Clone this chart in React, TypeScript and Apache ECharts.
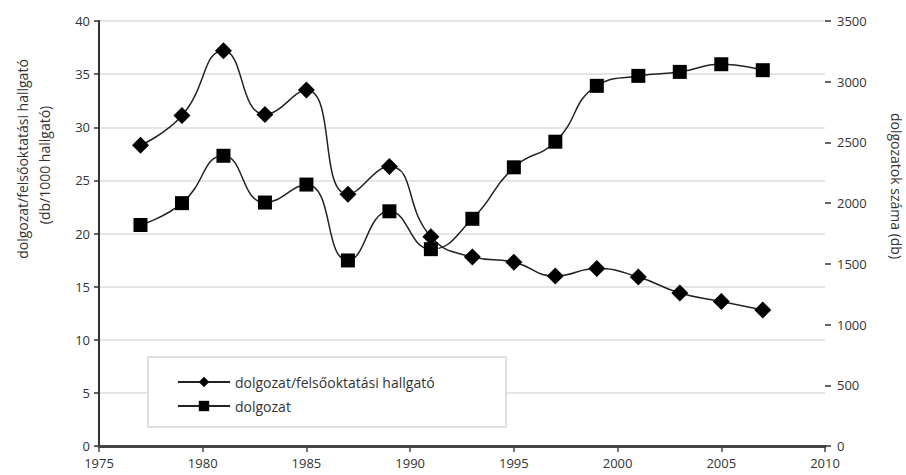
import React, { useEffect, useRef } from "react";
import * as echarts from "echarts";

const years = [1977, 1979, 1981, 1983, 1985, 1987, 1989, 1991, 1993, 1995, 1997, 1999, 2001, 2003, 2005, 2007];
const perStudent = [28.3, 31.1, 37.2, 31.2, 33.5, 23.7, 26.3, 19.7, 17.8, 17.3, 16.0, 16.7, 15.9, 14.4, 13.6, 12.8];
const papers = [1820, 2000, 2390, 2005, 2153, 1528, 1933, 1621, 1871, 2295, 2506, 2966, 3048, 3081, 3144, 3095];

const seriesNames = ["dolgozat/felsőoktatási hallgató", "dolgozat"];
const leftName1 = "dolgozat/felsőoktatási hallgató";
const leftName2 = "(db/1000 hallgató)";
const rightName = "dolgozatok száma (db)";

const FONT = "Open Sans";
const TXT = "#333";
const plain = (v: number) => String(v);

export default function App() {
  const ref = useRef<HTMLDivElement>(null);
  useEffect(() => {
    if (!ref.current) return;
    const chart = echarts.init(ref.current, undefined, { renderer: "svg" });
    chart.setOption({
      animation: false,
      backgroundColor: "#fff",
      textStyle: { fontFamily: FONT, color: TXT },
      grid: { left: 99, right: 81, top: 21, bottom: 29, containLabel: false },
      xAxis: {
        type: "value",
        min: 1975,
        max: 2010,
        interval: 5,
        axisLine: { show: true, lineStyle: { color: "#444", width: 3 } },
        axisTick: { show: true, length: 6, lineStyle: { color: "#444", width: 1.5 } },
        axisLabel: { color: TXT, fontSize: 13, margin: 10, fontFamily: FONT, formatter: plain },
        splitLine: { show: false },
      },
      yAxis: [
        {
          type: "value",
          min: 0,
          max: 40,
          interval: 5,
          position: "left",
          axisLine: { show: true, lineStyle: { color: "#333", width: 2 } },
          axisTick: { show: true, length: 5, lineStyle: { color: "#333", width: 1.5 } },
          axisLabel: { color: TXT, fontSize: 13, margin: 9, fontFamily: FONT, formatter: plain },
          splitLine: { show: true, lineStyle: { color: "#dcdcdc", width: 1.5 } },
        },
        {
          type: "value",
          min: 0,
          max: 3500,
          interval: 500,
          position: "right",
          axisLine: { show: false },
          axisTick: { show: true, length: 6, lineStyle: { color: "#333", width: 1.5 } },
          axisLabel: { color: TXT, fontSize: 13, margin: 12, fontFamily: FONT, formatter: plain },
          splitLine: { show: false },
        },
      ],
      legend: {
        show: true,
        orient: "vertical",
        left: 172,
        top: 370,
        itemWidth: 52,
        itemHeight: 13,
        itemGap: 10,
        z: 10,
        textStyle: { fontSize: 14, color: TXT, fontFamily: FONT },
        data: seriesNames,
      },
      graphic: [
        {
          type: "rect",
          z: 5,
          shape: { x: 148, y: 357, width: 358, height: 70 },
          style: { fill: "#fff", stroke: "#d6d6d6", lineWidth: 1.5 },
        },
        {
          type: "text",
          x: 22,
          y: 159,
          rotation: Math.PI / 2,
          style: { text: leftName1, fontSize: 14, fontFamily: FONT, fill: TXT, align: "center", verticalAlign: "middle" },
        },
        {
          type: "text",
          x: 44,
          y: 165,
          rotation: Math.PI / 2,
          style: { text: leftName2, fontSize: 14, fontFamily: FONT, fill: TXT, align: "center", verticalAlign: "middle" },
        },
        {
          type: "text",
          x: 896,
          y: 186,
          rotation: -Math.PI / 2,
          style: { text: rightName, fontSize: 14, fontFamily: FONT, fill: TXT, align: "center", verticalAlign: "middle" },
        },
      ],
      series: [
        {
          name: seriesNames[0],
          type: "line",
          yAxisIndex: 0,
          smooth: 0.5,
          symbol: "diamond",
          symbolSize: 17,
          data: years.map((y, i) => [y, perStudent[i]]),
          lineStyle: { color: "#222", width: 1.5 },
          itemStyle: { color: "#000" },
        },
        {
          name: seriesNames[1],
          type: "line",
          yAxisIndex: 1,
          smooth: 0.5,
          symbol: "rect",
          symbolSize: 14,
          data: years.map((y, i) => [y, papers[i]]),
          lineStyle: { color: "#222", width: 1.5 },
          itemStyle: { color: "#000" },
        },
      ],
    });
    return () => chart.dispose();
  }, []);
  return <div ref={ref} style={{ width: 906, height: 475, position: "absolute", left: 0, top: 0 }} />;
}
